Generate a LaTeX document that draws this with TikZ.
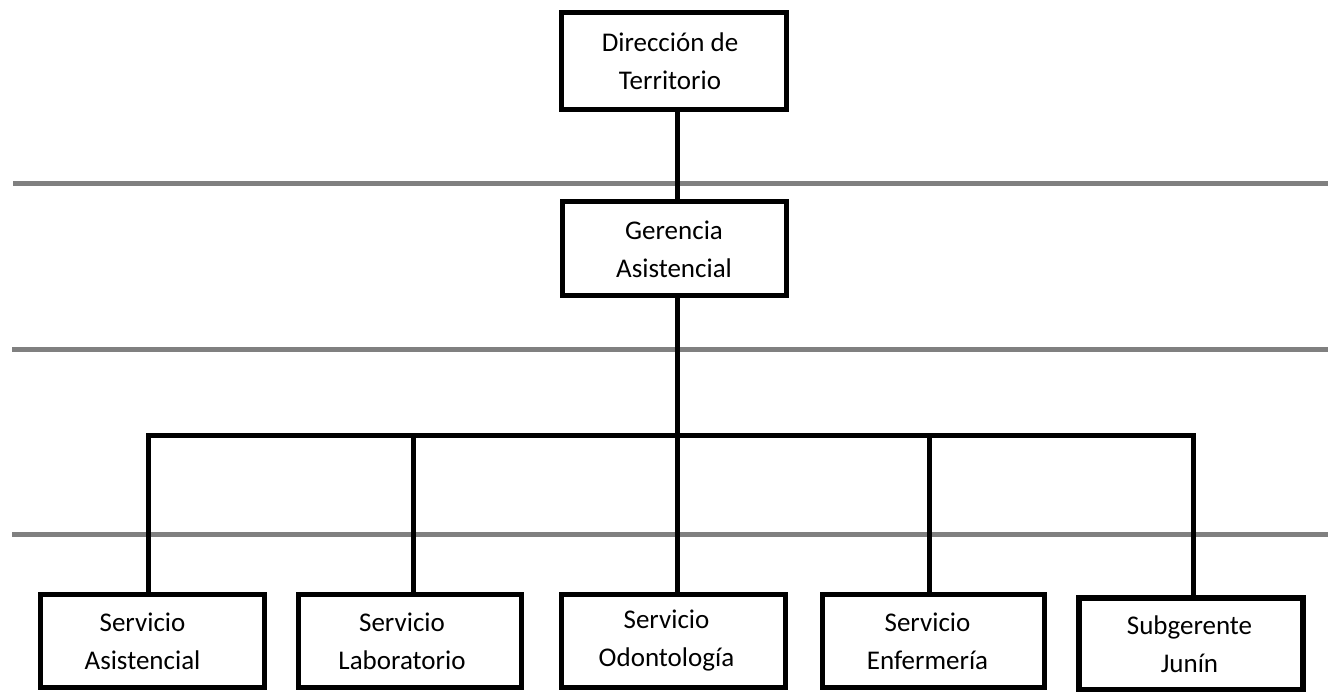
\documentclass[tikz,border=0pt]{standalone}
\usepackage{fontspec}
\setmainfont{Carlito}
\definecolor{bandgray}{RGB}{128,128,128}
\begin{document}
\begin{tikzpicture}[x=1pt,y=-1pt,
  box/.style={draw=black,line width=5pt,minimum width=224pt,minimum height=93pt,inner sep=0pt},
  lbl/.style={align=center,font=\fontsize{27}{38}\selectfont,inner sep=0pt},
  conn/.style={line width=5pt,draw=black},
  band/.style={line width=5pt,draw=bandgray}]
\useasboundingbox (0,0) rectangle (1328,692);
% gray level lines
\coordinate (g1l) at (13,183.5);  \coordinate (g1r) at (1328,183.5);
\coordinate (g2l) at (12,349.5);  \coordinate (g2r) at (1328,349.5);
\coordinate (g3l) at (12,534.5);  \coordinate (g3r) at (1328,534.5);
\draw[band] (g1l) -- (g1r);
\draw[band] (g2l) -- (g2r);
\draw[band] (g3l) -- (g3r);
% boxes
\node[box,minimum width=225pt,minimum height=97pt] (top) at (674,61) {};
\node[box,minimum width=224pt,minimum height=94pt] (ger) at (674,248.5) {};
\node[box] (b1) at (152.5,641) {};
\node[box,minimum width=223pt] (b2) at (410,641) {};
\node[box] (b3) at (673.5,641) {};
\node[box,minimum width=222pt] (b4) at (933.5,641) {};
\node[box,line width=6pt,minimum height=92pt] (b5) at (1190.5,643.5) {};
% labels
\node[lbl] (ttop) at ([xshift=-4pt]top.center) {Dirección de\\Territorio};
\node[lbl] (tger) at ([yshift=-1pt]ger.center) {Gerencia\\Asistencial};
\node[lbl] (tb1) at ([xshift=-10pt]b1.center) {Servicio\\Asistencial};
\node[lbl] (tb2) at ([xshift=-8pt]b2.center) {Servicio\\Laboratorio};
\node[lbl] (tb3) at ([xshift=-7pt]b3.center) {Servicio\\Odontología};
\node[lbl] (tb4) at ([xshift=-6pt]b4.center) {Servicio\\Enfermería};
\node[lbl] (tb5) at ([xshift=-1pt,yshift=-1pt]b5.center) {Subgerente\\Junín};
% connectors
\coordinate (trunk) at (677.5,435.5);
\coordinate (barL) at (148.5,435.5);
\coordinate (barR) at (1193.5,435.5);
\coordinate (d2) at (413,435.5);
\coordinate (d4) at (929,435.5);
\draw[conn] (top.south -| trunk) -- (ger.north -| trunk);
\draw[conn] (ger.south -| trunk) -- (trunk);
\draw[conn] (b1.north -| barL) -- (barL) -- (barR) -- (b5.north -| barR);
\draw[conn] (d2) -- (b2.north -| d2);
\draw[conn] (trunk) -- (b3.north -| trunk);
\draw[conn] (d4) -- (b4.north -| d4);
\end{tikzpicture}
\end{document}
